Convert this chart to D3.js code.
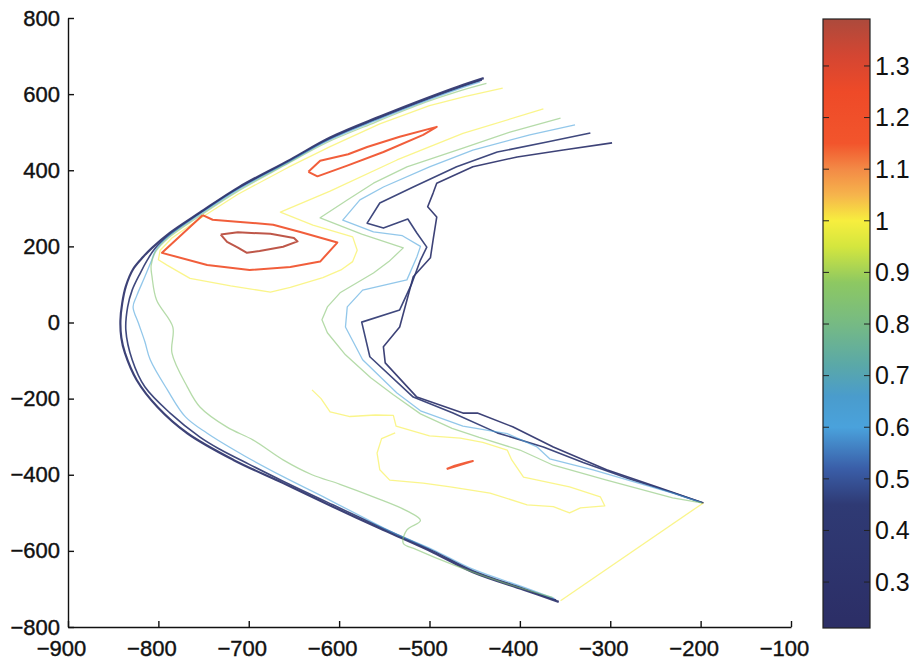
<!DOCTYPE html>
<html>
<head>
<meta charset="utf-8">
<script src="https://cdn.jsdelivr.net/npm/d3@7"></script>
<style>
  body { margin: 0; background: #fff; }
  svg { display: block; }
</style>
</head>
<body>
<div id="chart"></div>
<script>
// axis ticks
const xTicks = [-900, -800, -700, -600, -500, -400, -300, -200, -100];
const yTicks = [-800, -600, -400, -200, 0, 200, 400, 600, 800];
const cbTicks = [0.3, 0.4, 0.5, 0.6, 0.7, 0.8, 0.9, 1.0, 1.1, 1.2, 1.3];
const cbRange = [0.211, 1.391];

// colour map of the colour bar
const cmapStops = [0.211, 0.45, 0.52, 0.6, 0.66, 0.72, 0.8, 0.88, 0.95, 1.0, 1.05, 1.1, 1.15, 1.25, 1.32, 1.391];
const cmapColors = ["#2c2e66", "#2f3a74", "#3a5ea8", "#4aa2dc", "#4a9ccc", "#5aa8a8", "#76ba84", "#8dc862",
                    "#d4e63e", "#f7ee3e", "#f6b44c", "#f38a46", "#f2552c", "#ee4a28", "#d44632", "#ac4a3c"];

// contour levels
const contourLevels = [0.3, 0.42, 0.6, 0.85, 1.0, 0.3, 0.42, 0.6, 0.85, 1.0, 1.0, 1.2, 1.2, 1.37, 1.2];

// contour lines, [x, y] in data units
const outerNavy = [[-440,642],[-468,620],[-499,593],[-555,541],[-610,486],[-654,428],[-710,357],[-754,289],
  [-787,236],[-807,196],[-817,172],[-828,140],[-836,95],[-840,51],[-842,5],[-841,-40],[-837,-80],[-824,-151],
  [-801,-222],[-768,-291],[-717,-361],[-662,-422],[-607,-484],[-551,-545],[-496,-604],[-452,-656],[-396,-702],[-357,-734]];
const outerNavy2 = [[-442,637],[-470,615],[-501,588],[-557,536],[-612,481],[-656,423],[-712,352],[-756,284],
  [-788,230],[-804,194],[-812,165],[-820,130],[-829,85],[-834,41],[-836,-20],[-829,-98],[-815,-169],[-787,-238],
  [-754,-301],[-732,-333],[-700,-372],[-662,-417],[-607,-479],[-551,-541],[-496,-600],[-452,-652],[-396,-699],[-360,-729]];
const outerBlue = [[-444,632],[-472,610],[-503,583],[-559,531],[-614,476],[-658,418],[-713,347],[-757,279],
  [-789,226],[-803,190],[-808,160],[-815,120],[-824,70],[-828,41],[-822,-2],[-815,-50],[-809,-98],[-790,-177],
  [-770,-248],[-746,-291],[-705,-350],[-662,-405],[-620,-455],[-575,-510],[-540,-552],[-496,-597],[-452,-648],
  [-396,-695],[-362,-725]];
const outerGreen = [[-437,628],[-470,606],[-505,578],[-560,526],[-615,471],[-660,413],[-714,342],[-758,274],
  [-789,222],[-803,186],[-808,150],[-807,120],[-802,59],[-784,-12],[-785,-80],[-768,-169],[-754,-222],[-724,-275],
  [-695,-309],[-662,-361],[-630,-400],[-599,-425],[-560,-460],[-525,-495],[-510,-520],[-525,-545],[-529,-580],
  [-515,-596],[-470,-640],[-420,-682],[-364,-722]];
const topYellow = [[-419,616],[-460,594],[-500,570],[-555,522],[-610,462],[-656,408],[-712,337],[-756,270],
  [-785,222],[-798,190],[-800,165],[-790,150],[-765,116],[-720,96],[-676,80],[-654,92],[-618,118],[-598,138],
  [-585,160],[-580,190],[-585,225],[-629,256],[-665,290],[-610,345],[-536,427],[-463,497],[-374,561]];
const innerNavy1 = [[-298,472],[-352,453],[-403,435],[-452,409],[-492,366],[-496,340],[-502,304],[-492,277],
  [-496,217],[-499,170],[-518,120],[-533,-12],[-551,-64],[-549,-106],[-514,-196],[-463,-238],[-447,-238],
  [-408,-274],[-363,-327],[-304,-387],[-248,-432],[-197,-474]];
const innerNavy2 = [[-322,498],[-370,474],[-425,448],[-470,409],[-518,356],[-555,314],[-569,261],[-551,248],
  [-524,272],[-514,235],[-503,198],[-510,164],[-520,100],[-533,33],[-575,1],[-566,-90],[-518,-196],[-474,-238],
  [-425,-290],[-374,-327],[-330,-368],[-280,-410],[-230,-448],[-197,-474]];
const innerBlue = [[-339,519],[-389,493],[-452,453],[-500,409],[-551,356],[-577,322],[-596,269],[-562,238],
  [-530,228],[-510,200],[-514,172],[-525,112],[-574,85],[-591,41],[-593,-12],[-574,-98],[-536,-185],[-510,-232],
  [-463,-272],[-414,-292],[-381,-327],[-367,-358],[-319,-387],[-231,-448],[-199,-473]];
const innerGreen = [[-355,537],[-411,500],[-463,458],[-525,409],[-562,366],[-591,322],[-621,275],[-575,232],
  [-529,196],[-545,160],[-562,130],[-599,78],[-613,41],[-619,7],[-613,-27],[-593,-85],[-565,-145],[-540,-190],
  [-510,-240],[-475,-278],[-445,-302],[-400,-335],[-363,-375],[-304,-414],[-231,-461],[-199,-474]];
const lowYellow = [[-630,-177],[-620,-200],[-610,-235],[-588,-247],[-560,-243],[-540,-244],[-537,-272],
  [-500,-298],[-466,-304],[-441,-315],[-414,-335],[-409,-361],[-396,-406],[-345,-432],[-311,-458],[-306,-482],
  [-333,-487],[-345,-500],[-363,-484],[-392,-479],[-433,-448],[-477,-432],[-507,-422],[-544,-414],[-555,-387],
  [-558,-343],[-553,-305],[-538,-290]];
const edgeYellow = [[-355,-731],[-197,-474]];
const redUpper = [[-634,396],[-621,425],[-590,442],[-569,461],[-533,488],[-492,514],[-507,493],[-551,448],
  [-591,412],[-624,384],[-634,396]];
const redLeft = [[-751,282],[-740,270],[-713,265],[-673,257],[-643,238],[-602,210],[-621,160],[-654,146],
  [-699,138],[-746,151],[-796,183],[-751,282]];
const redCore = [[-731,231],[-712,237],[-676,233],[-650,222],[-646,213],[-662,199],[-688,188],[-702,183],
  [-712,197],[-724,212],[-731,231]];
const redSmall = [[-481,-385],[-470,-377],[-452,-364],[-458,-367],[-472,-376],[-481,-385]];

const contourLines = [outerNavy, outerNavy2, outerBlue, outerGreen, topYellow,
  innerNavy1, innerNavy2, innerBlue, innerGreen, lowYellow, edgeYellow,
  redUpper, redLeft, redCore, redSmall];

// sizes
const width = 920;
const height = 668;
const margin = {top: 18, bottom: 41, left: 68, right: 129};
const plotW = width - margin.left - margin.right;
const plotH = height - margin.top - margin.bottom;
const cb = {x: 823, y: 19, w: 47, h: 609};
const font = '"Liberation Sans", Arial, Helvetica, sans-serif';

var svg = d3.select("#chart")
    .append("svg")
    .attr("width", width)
    .attr("height", height);

var g = svg.append("g")
    .attr("transform", "translate(" + margin.left + "," + margin.top + ")");

// scales
var xScale = d3.scaleLinear().domain([-900, -100]).range([0, plotW]);
var yScale = d3.scaleLinear().domain([-800, 800]).range([plotH, 0]);
var colour = d3.scaleLinear().domain(cmapStops).range(cmapColors).clamp(true);
var cbScale = d3.scaleLinear().domain(cbRange).range([cb.h, 0]);

// the outer boundary lines are smooth, the rest stays a plain polyline
var smoothLine = d3.line()
    .curve(d3.curveCatmullRom.alpha(0.5))
    .x(function (d) { return xScale(d[0]); })
    .y(function (d) { return yScale(d[1]); });

var line = d3.line()
    .x(function (d) { return xScale(d[0]); })
    .y(function (d) { return yScale(d[1]); });

var table = contourLines.map(function (pts, i) {
  return {level: contourLevels[i], pts: pts, boundary: i < 4, outer: i === 0};
});

g.append("g").selectAll("path")
    .data(table)
  .enter().append("path")
    .attr("d", function (d) { return d.boundary ? smoothLine(d.pts) : line(d.pts); })
    .attr("fill", "none")
    .attr("stroke", function (d) { return colour(d.level); })
    .attr("stroke-width", function (d) {
      if (d.outer) return 2.2;
      return d.level > 1.1 ? 2 : (d.level < 0.5 ? 1.6 : 1.3); })
    .attr("stroke-opacity", function (d) { return (d.level < 0.5 || d.level > 1.1) ? 0.92 : 0.6; })
    .attr("stroke-linejoin", "round");

// x axis
var xAxis = g.append("g")
    .attr("transform", "translate(0," + plotH + ")")
    .call(d3.axisBottom(xScale).tickValues(xTicks).tickSizeInner(-6).tickSizeOuter(0).tickPadding(13));

// y axis
var yAxis = g.append("g")
    .call(d3.axisLeft(yScale).tickValues(yTicks).tickSizeInner(-6).tickSizeOuter(0).tickPadding(8));

[xAxis, yAxis].forEach(function (ax) {
  ax.attr("font-size", 22).attr("font-family", font);
  ax.select(".domain").attr("stroke", "#111").attr("stroke-width", 1.4);
  ax.selectAll(".tick line").attr("stroke", "#111").attr("stroke-width", 1.4);
  ax.selectAll(".tick text").attr("fill", "#111").attr("stroke", "#111").attr("stroke-width", 0.4);
});
xAxis.selectAll(".tick text").attr("x", -7);

// colour bar
var defs = svg.append("defs");
var grad = defs.append("linearGradient")
    .attr("id", "cbgrad")
    .attr("x1", 0).attr("y1", 1).attr("x2", 0).attr("y2", 0);
grad.selectAll("stop")
    .data(cmapStops)
  .enter().append("stop")
    .attr("offset", function (d) { return (d - cbRange[0]) / (cbRange[1] - cbRange[0]); })
    .attr("stop-color", function (d) { return colour(d); });

var cbG = svg.append("g")
    .attr("transform", "translate(" + cb.x + "," + cb.y + ")");

cbG.append("rect")
    .attr("width", cb.w)
    .attr("height", cb.h)
    .attr("fill", "url(#cbgrad)")
    .attr("stroke", "#222")
    .attr("stroke-width", 1.2);

cbG.selectAll(".tl")
    .data(cbTicks)
  .enter().append("line")
    .attr("x1", 0).attr("x2", 6)
    .attr("y1", function (d) { return cbScale(d); })
    .attr("y2", function (d) { return cbScale(d); })
    .attr("stroke", "#222");

cbG.selectAll(".tr")
    .data(cbTicks)
  .enter().append("line")
    .attr("x1", cb.w - 6).attr("x2", cb.w)
    .attr("y1", function (d) { return cbScale(d); })
    .attr("y2", function (d) { return cbScale(d); })
    .attr("stroke", "#222");

cbG.selectAll("text")
    .data(cbTicks)
  .enter().append("text")
    .attr("x", cb.w + 5)
    .attr("y", function (d) { return cbScale(d); })
    .attr("dy", "0.35em")
    .attr("font-family", font)
    .attr("font-size", 25)
    .attr("fill", "#111")
    .text(function (d) { return String(+d.toFixed(1)); });
</script>
</body>
</html>
